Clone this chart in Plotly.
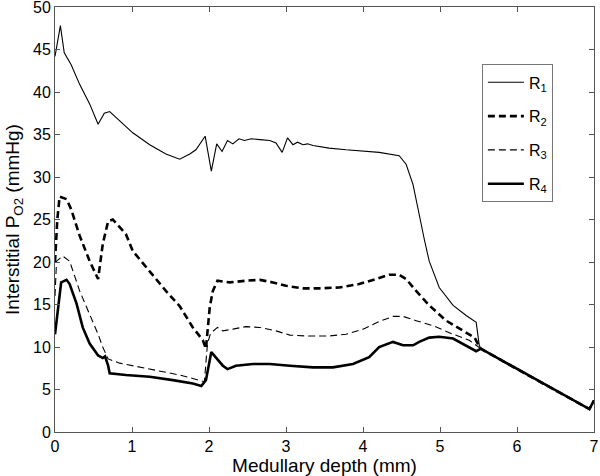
import plotly.graph_objects as go

# Medullary depth (mm) and interstitial PO2 (mmHg) for each region
r1_x = [0.0, 0.07, 0.12, 0.21, 0.32, 0.45, 0.56, 0.64, 0.71, 1.01, 1.23, 1.44, 1.62, 1.75, 1.83, 1.95,
        2.03, 2.10, 2.17, 2.24, 2.31, 2.39, 2.46, 2.55, 2.66, 2.79, 2.87, 2.95, 3.02, 3.09, 3.15, 3.22,
        3.28, 3.35, 3.56, 3.78, 4.21, 4.47, 4.56, 4.65, 4.80, 4.86, 4.99, 5.17, 5.34, 5.47, 5.51, 5.53,
        6.0, 6.5, 6.94, 7.0]
r1_y = [44.2, 47.8, 44.6, 43.2, 40.9, 38.6, 36.2, 37.5, 37.7, 35.2, 33.8, 32.7, 32.1, 32.7, 33.2, 34.8,
        30.7, 33.9, 33.0, 34.3, 33.9, 34.5, 34.3, 34.5, 34.4, 34.3, 34.0, 32.9, 34.6, 33.8, 34.1, 33.8,
        33.9, 33.7, 33.4, 33.2, 32.9, 32.5, 31.5, 29.1, 22.5, 20.1, 17.0, 14.9, 13.7, 12.9, 10.2, 9.8,
        7.4, 4.9, 2.7, 3.7]

r2_x = [0.0, 0.03, 0.06, 0.15, 0.21, 0.32, 0.45, 0.56, 0.62, 0.69, 0.75, 0.92, 1.01, 1.44, 1.62, 1.79,
        1.92, 1.96, 2.01, 2.05, 2.11, 2.27, 2.48, 2.66, 2.83, 3.0, 3.22, 3.43, 3.69, 3.95, 4.17, 4.34,
        4.47, 4.56, 4.69, 4.86, 5.08, 5.30, 5.45, 5.49, 5.53, 6.0, 6.5, 6.94, 7.0]
r2_y = [20.0, 25.0, 27.7, 27.4, 26.2, 23.1, 20.1, 18.0, 22.1, 24.8, 25.0, 23.3, 21.3, 16.6, 14.8, 12.3,
        10.8, 9.8, 14.7, 16.6, 17.8, 17.6, 17.8, 17.9, 17.6, 17.2, 16.9, 16.9, 17.0, 17.4, 18.0, 18.5,
        18.5, 18.0, 16.6, 14.9, 13.1, 11.9, 11.1, 10.4, 9.8, 7.4, 4.9, 2.7, 3.7]

r3_x = [0.0, 0.02, 0.10, 0.19, 0.32, 0.45, 0.56, 0.62, 0.69, 0.84, 1.23, 1.62, 1.79, 1.94, 1.98, 2.02,
        2.11, 2.18, 2.31, 2.48, 2.66, 2.87, 3.05, 3.26, 3.56, 3.78, 4.0, 4.21, 4.39, 4.52, 4.69, 4.91,
        5.17, 5.38, 5.53, 6.0, 6.5, 6.94, 7.0]
r3_y = [16.0, 20.1, 20.7, 20.1, 16.6, 13.9, 11.5, 10.0, 8.6, 8.1, 7.4, 6.7, 6.3, 5.9, 10.4, 11.6,
        12.3, 11.9, 12.1, 12.4, 12.3, 11.9, 11.4, 11.3, 11.3, 11.5, 12.1, 13.0, 13.6, 13.6, 13.1, 12.5,
        11.5, 10.8, 9.8, 7.4, 4.9, 2.7, 3.7]

r4_x = [0.0, 0.03, 0.06, 0.08, 0.15, 0.19, 0.28, 0.36, 0.45, 0.56, 0.62, 0.65, 0.69, 0.71, 0.92, 1.23,
        1.53, 1.79, 1.90, 1.96, 2.03, 2.09, 2.18, 2.24, 2.35, 2.57, 2.79, 3.05, 3.35, 3.61, 3.87, 4.08,
        4.21, 4.39, 4.52, 4.65, 4.73, 4.86, 4.99, 5.17, 5.34, 5.47, 5.53, 6.0, 6.5, 6.94, 7.0]
r4_y = [11.5, 13.9, 16.6, 17.6, 17.9, 17.4, 15.1, 12.3, 10.4, 9.0, 8.7, 8.9, 7.8, 6.9, 6.7, 6.5,
        6.1, 5.7, 5.4, 6.1, 9.4, 8.8, 7.8, 7.4, 7.8, 8.0, 8.0, 7.8, 7.6, 7.6, 8.0, 8.8,
        10.0, 10.6, 10.2, 10.2, 10.6, 11.1, 11.2, 11.0, 10.2, 9.5, 9.8, 7.4, 4.9, 2.7, 3.7]

names = ["R<sub>1</sub>", "R<sub>2</sub>", "R<sub>3</sub>", "R<sub>4</sub>"]
x_ticks = [0, 1, 2, 3, 4, 5, 6, 7]
y_ticks = [0, 5, 10, 15, 20, 25, 30, 35, 40, 45, 50]

styles = [
    dict(width=1.1, dash="solid"),
    dict(width=2.6, dash="7px,4px"),
    dict(width=1.1, dash="7px,4px"),
    dict(width=2.6, dash="solid"),
]
series = [(r1_x, r1_y), (r2_x, r2_y), (r3_x, r3_y), (r4_x, r4_y)]

fig = go.Figure()
for i, ((xs, ys), nm, st) in enumerate(zip(series, names, styles)):
    fig.add_trace(go.Scatter(x=xs, y=ys, mode="lines", name=nm, legendgroup=f"g{i}",
                             line=dict(color="black", width=st["width"], dash=st["dash"])))

fam = "Liberation Sans, Arial, Helvetica, sans-serif"
tick_font = dict(family=fam, size=16, color="black")
title_font = dict(family=fam, size=19, color="black")
axis_common = dict(showline=True, linecolor="#555", linewidth=1, mirror="ticks", ticks="inside",
                   ticklen=5, tickcolor="#555", showgrid=False, zeroline=False, tickfont=tick_font,
                   automargin=False, ticklabeloverflow="allow")

fig.update_layout(
    width=600, height=476,
    margin=dict(l=55, r=6, t=7, b=44),
    paper_bgcolor="white", plot_bgcolor="white",
    font=tick_font,
    xaxis=dict(range=[0, 7], tickvals=x_ticks,
               title=dict(text="Medullary depth (mm)", font=title_font, standoff=0),
               **axis_common),
    yaxis=dict(range=[0, 50], tickvals=y_ticks,
               title=dict(text="Interstitial P<sub>O2</sub> (mmHg)", font=title_font, standoff=8),
               **axis_common),
    legend=dict(x=0.792, y=0.865, xanchor="left", yanchor="top", bordercolor="#777", borderwidth=1,
                bgcolor="white", traceorder="grouped", tracegroupgap=10, font=dict(family=fam, size=16),
                itemwidth=36),
    showlegend=True,
)

fig.write_html("out.html", config={"displayModeBar": False},
               post_script="document.body.style.margin='0';document.body.style.overflow='hidden';")
